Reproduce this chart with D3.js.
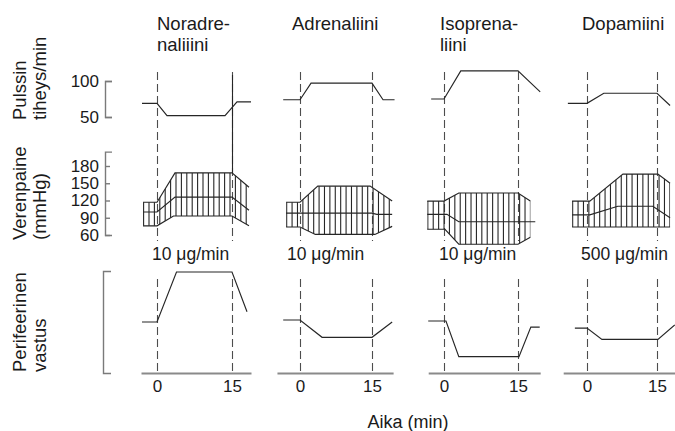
<!DOCTYPE html>
<html>
<head>
<meta charset="utf-8">
<script src="https://cdn.jsdelivr.net/npm/d3@7"></script>
<style>
  html, body { margin: 0; padding: 0; background: #fff; }
  svg { display: block; }
  text { font-family: "Liberation Sans", Arial, Helvetica, sans-serif; fill: #1a1a1a; }
</style>
</head>
<body>
<div id="chart"></div>
<script>
// ---------------- DATA ----------------
const drugTitles = [["Noradre-", "naliiini"], ["Adrenaliini"], ["Isoprena-", "liini"], ["Dopamiini"]];
const doseLabels = ["10 \u03bcg/min", "10 \u03bcg/min", "10 \u03bcg/min", "500 \u03bcg/min"];
const rowLabels = [["Pulssin", "tiheys/min"], ["Verenpaine", "(mmHg)"], ["Perifeerinen", "vastus"]];
const xTitle = "Aika (min)";
const timeTicks = [0, 15];
const pulseTicks = [50, 100];
const bpTicks = [60, 90, 120, 150, 180];

// Pulse (beats/min): [time (min), value]
const pulseNA = [[-3, 69], [0, 69], [2, 52], [13.6, 52], [16, 71], [18.8, 71]];
const pulseA  = [[-3.5, 74], [0, 74], [2.3, 97], [15, 97], [17.3, 74], [19.7, 74]];
const pulseI  = [[-2.6, 75], [0, 75], [3.4, 114], [15, 114], [19.5, 85]];
const pulseD  = [[-4.1, 69], [0, 69], [3.6, 83], [15, 83], [17.8, 66]];

// Blood pressure (mmHg): systolic / mean / diastolic
const sysNA  = [[-2.8, 117], [0, 117], [3.6, 168], [15, 168], [18.4, 143]];
const meanNA = [[-2.8, 100], [0, 100], [3.6, 126], [15, 126], [18.4, 103]];
const diaNA  = [[-2.8, 76], [0, 76], [3.3, 93], [15, 93], [18.4, 76]];

const sysA  = [[-2.9, 117], [0, 117], [3.7, 145], [14.6, 145], [19.2, 119]];
const meanA = [[-2.9, 98], [15, 98], [16, 96], [19.2, 96]];
const diaA  = [[-2.9, 74], [0, 74], [3.2, 61], [15.6, 61], [19.2, 75]];

const sysI  = [[-3.4, 119], [0, 119], [3, 133], [15, 133], [17.5, 119]];
const meanI = [[-3.4, 96], [0.6, 96], [3, 83], [18.5, 83]];
const diaI  = [[-3.4, 70], [0.2, 70], [3, 44], [15, 44], [17.5, 56]];

const sysD  = [[-3.2, 119], [0.6, 119], [7.7, 166], [15.2, 166], [17.8, 150]];
const meanD = [[-3.2, 95], [0.6, 95], [6.6, 110], [14.1, 110], [17.8, 90]];
const diaD  = [[-3.2, 74], [17.8, 74]];

// Peripheral resistance (relative units 0-100)
const resNA = [[-3, 50], [0, 50], [3.9, 99], [15, 99], [18, 60]];
const resA  = [[-3.5, 52], [0, 52], [4.6, 35], [15, 35], [19.2, 50]];
const resI  = [[-3.2, 51], [0.4, 51], [3, 16], [15.2, 16], [17.6, 45], [19.4, 45]];
const resD  = [[-2.6, 44], [0, 44], [3.2, 33], [15.2, 33], [18.8, 47]];

const pulseSeries = [pulseNA, pulseA, pulseI, pulseD];
const sysSeries = [sysNA, sysA, sysI, sysD];
const meanSeries = [meanNA, meanA, meanI, meanD];
const diaSeries = [diaNA, diaA, diaI, diaD];
const resSeries = [resNA, resA, resI, resD];

// ---------------- LAYOUT ----------------
const W = 675, H = 431;
const x0px = [157, 300, 444, 587];
const x15px = [232, 372, 518, 657];
const tExtent = [[-3.2, 18.8], [-4.8, 19.4], [-3.2, 19.5], [-5.1, 19.2]];
const titleX = [157, 292, 440, 582];
const doseX = [152, 287, 439, 581];
const ink = "#262626";
const axisGray = "#7a7a7a";
const fontFam = '"Liberation Sans", Arial, Helvetica, sans-serif';

const svg = d3.select("#chart").append("svg")
  .attr("width", W).attr("height", H)
  .attr("viewBox", `0 0 ${W} ${H}`);

const yP = d3.scaleLinear().domain([50, 100]).range([117, 81]);
const yB = d3.scaleLinear().domain([60, 180]).range([235, 166]);
const yBaxis = d3.scaleLinear().domain([60, 205]).range([yB(60), yB(205)]);
const yR = d3.scaleLinear().domain([0, 100]).range([373, 271]);

// ---- Left bracket axes ----
function styleAxis(g, fs) {
  g.attr("font-family", fontFam).attr("font-size", fs);
  g.selectAll("path.domain").attr("stroke", axisGray).attr("stroke-width", 1.4);
  g.selectAll(".tick line").attr("stroke", axisGray).attr("stroke-width", 1.4);
  g.selectAll(".tick text").attr("fill", "#1a1a1a");
}
svg.append("g").attr("transform", "translate(105,0)")
  .call(d3.axisLeft(yP).tickValues(pulseTicks).tickSizeInner(-7).tickSizeOuter(-7).tickPadding(6))
  .call(g => styleAxis(g, 17));
svg.append("g").attr("transform", "translate(105,0)")
  .call(d3.axisLeft(yBaxis).tickValues(bpTicks).tickSizeInner(-5).tickSizeOuter(-7).tickPadding(6))
  .call(g => styleAxis(g, 17));
svg.append("g").attr("transform", "translate(103,0)")
  .call(d3.axisLeft(yR).tickValues([]).tickSizeOuter(-8))
  .call(g => styleAxis(g, 17));

// ---- Row labels (rotated) ----
const rowBase = [120, 240, 372];
rowLabels.forEach((lines, r) => {
  lines.forEach((txt, j) => {
    const bx = j === 0 ? 26 : 46;
    svg.append("text")
      .attr("transform", `translate(${bx},${rowBase[r]}) rotate(-90)`)
      .attr("font-size", 18.5)
      .attr("text-anchor", "start")
      .text(txt);
  });
});

// ---- Panels ----
const defs = svg.append("defs");
for (let i = 0; i < 4; i++) {
  const k = (x15px[i] - x0px[i]) / 15;
  const xs = d3.scaleLinear().domain(tExtent[i])
    .range([x0px[i] + k * tExtent[i][0], x0px[i] + k * tExtent[i][1]]);
  const g = svg.append("g");

  // titles
  drugTitles[i].forEach((t, j) => {
    g.append("text").attr("x", titleX[i]).attr("y", 30 + j * 21)
      .attr("font-size", 18.5).text(t);
  });
  // dose
  g.append("text").attr("x", doseX[i]).attr("y", 260)
    .attr("font-size", 17.5).text(doseLabels[i]);

  // dashed time markers
  timeTicks.forEach(t => {
    const xx = Math.round(xs(t)) + 0.5;
    [[72, 241], [279, 373]].forEach(([a, b]) => {
      g.append("line").attr("x1", xx).attr("x2", xx)
        .attr("y1", a).attr("y2", b)
        .attr("stroke", "#4d4d4d").attr("stroke-width", 1.1)
        .attr("stroke-dasharray", "8,4");
    });
  });
  if (i === 0) {
    const sysAt15 = sysSeries[0].find(d => d[0] === 15)[1];
    const xx = Math.round(xs(15)) + 0.5;
    g.append("line").attr("x1", xx).attr("x2", xx)
      .attr("y1", 75).attr("y2", yB(sysAt15))
      .attr("stroke", ink).attr("stroke-width", 1.1);
  }

  const lineP = d3.line().x(d => xs(d[0])).y(d => yP(d[1]));
  const lineB = d3.line().x(d => xs(d[0])).y(d => yB(d[1]));
  const lineR = d3.line().x(d => xs(d[0])).y(d => yR(d[1]));

  // pulse
  g.append("path").attr("d", lineP(pulseSeries[i]))
    .attr("fill", "none").attr("stroke", ink).attr("stroke-width", 1.15);

  // BP band hatch
  const poly = sysSeries[i].concat(diaSeries[i].slice().reverse());
  const polyPath = lineB(poly) + "Z";
  defs.append("clipPath").attr("id", "band" + i)
    .append("path").attr("d", polyPath);
  const tStart = d3.min(poly, d => d[0]);
  const tEnd = d3.max(poly, d => d[0]);
  const hatchX = d3.range(xs(tStart) + 0.6, xs(tEnd) + 0.6, 5.4);
  const hg = g.append("g").attr("clip-path", `url(#band${i})`);
  hg.selectAll("line").data(hatchX).join("line")
    .attr("x1", d => d).attr("x2", d => d)
    .attr("y1", 140).attr("y2", 260)
    .attr("stroke", ink).attr("stroke-width", 1.1);
  [sysSeries[i], meanSeries[i], diaSeries[i]].forEach(s => {
    g.append("path").attr("d", lineB(s))
      .attr("fill", "none").attr("stroke", ink).attr("stroke-width", 1.15);
  });

  // resistance
  g.append("path").attr("d", lineR(resSeries[i]))
    .attr("fill", "none").attr("stroke", ink).attr("stroke-width", 1.15);

  // x axis
  g.append("g").attr("transform", "translate(0,373)")
    .call(d3.axisBottom(xs).tickValues(timeTicks).tickSize(0).tickPadding(7))
    .call(ax => {
      ax.attr("font-family", fontFam).attr("font-size", 17);
      ax.selectAll("path.domain").attr("stroke", "#8a8a8a").attr("stroke-width", 2);
      ax.selectAll(".tick text").attr("fill", "#1a1a1a");
    });
}

svg.append("text").attr("x", 408).attr("y", 428)
  .attr("text-anchor", "middle").attr("font-size", 18).text(xTitle);
</script>
</body>
</html>
